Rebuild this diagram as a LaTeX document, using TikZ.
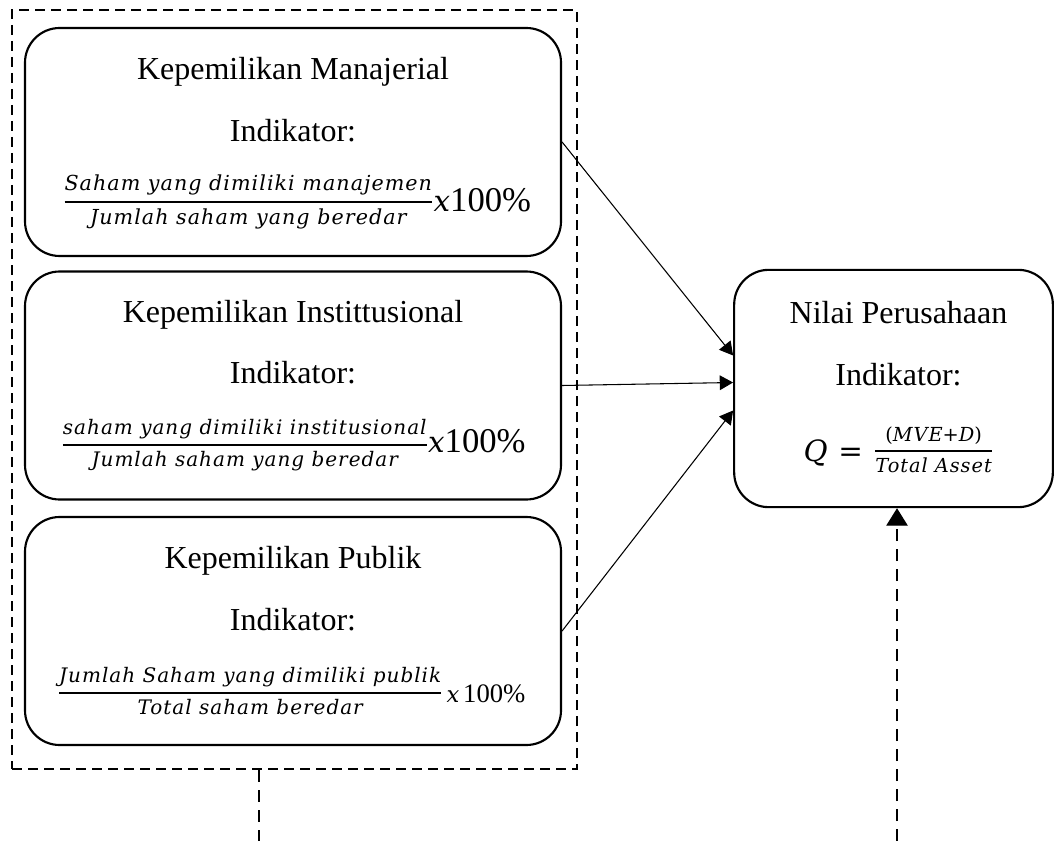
\RequirePackage{fix-cm}
\documentclass[tikz,border=0pt]{standalone}
\usepackage{fontspec}
\setmainfont{Liberation Serif}
\newfontfamily\rumus[LetterSpace=5]{DejaVu Serif}
\usetikzlibrary{positioning,calc,arrows.meta}

% fraction of the indicators: numerator, denominator, lift
\newcommand{\pecahan}[3]{\raisebox{#3}{$\displaystyle{\mbox{\rumus\itshape #1}\above 1.4pt\mbox{\rumus\itshape #2}}$}}

\tikzset{
  varbox/.style={draw, line width=1.6pt, rounded corners=26pt, inner sep=0pt,
    minimum width=402pt, minimum height=171pt},
  grpbox/.style={draw, line width=1.5pt, dash pattern=on 7.5pt off 4.5pt, inner sep=0pt,
    minimum width=423.75pt, minimum height=569.25pt},
  judul/.style={anchor=base, font=\fontsize{24}{29}\selectfont},
  rumusnode/.style={anchor=base, inner sep=0pt},
  arr/.style={-{Triangle[length=10pt,width=11pt]}, line width=0.8pt},
  garis/.style={line width=0.8pt, dash pattern=on 9pt off 6pt},
}

\begin{document}
\begin{tikzpicture}[x=0.75pt, y=-0.75pt]
        \useasboundingbox (0,0) rectangle (1055,841);
        % group of the three independent variables
        \node[grpbox] (grp) at (294.5,389.5) {};
        \node[varbox] (man) at (293,142) {};
        \node[varbox] (ins) at (293,385.5) {};
        \node[varbox] (pub) at (293,631) {};
        % dependent variable
        \node[varbox, minimum width=239pt, minimum height=178pt] (nilai) at (893.5,388.5) {};
        % texts of the boxes
        \node[judul] (tman) at (293,80) {Kepemilikan Manajerial};
        \node[judul] (iman) at (293,142) {Indikator:};
        \node[rumusnode] (fman) at (297,212) {\fontsize{15.5}{18}\selectfont\pecahan{Saham yang dimiliki manajemen}{Jumlah saham yang beredar}{3.6pt}{\fontsize{22}{26}\rumus\itshape x}{\fontsize{26}{31}\selectfont 100\%}};
        \node[judul] (tins) at (293,322) {Kepemilikan Instittusional};
        \node[judul] (iins) at (293,383) {Indikator:};
        \node[rumusnode] (fins) at (293.5,452) {\fontsize{15}{18}\selectfont\pecahan{saham yang dimiliki institusional}{Jumlah saham yang beredar}{1.5pt}{\fontsize{22}{26}\rumus\itshape x}{\fontsize{26}{31}\selectfont 100\%}};
        \node[judul] (tpub) at (293,568) {Kepemilikan Publik};
        \node[judul] (ipub) at (293,630) {Indikator:};
        \node[rumusnode] (fpub) at (291.5,702) {\fontsize{15}{18}\selectfont\pecahan{Jumlah Saham yang dimiliki publik}{Total saham beredar}{3pt}{\fontsize{17}{20}\rumus\itshape\,x\,}{\fontsize{20}{24}\selectfont 100\%}};
        \node[judul] (tnil) at (898.5,323) {Nilai Perusahaan};
        \node[judul] (inil) at (898.5,385) {Indikator:};
        \node[rumusnode] (fnil) at (898.5,461) {{\fontsize{22}{26}\rumus{\itshape Q} = }{\fontsize{14.5}{17}\selectfont\pecahan{{\upshape(}MVE{\upshape+}D{\upshape)}}{Total Asset}{3.9pt}}};
        % arrows to nilai perusahaan
        \draw[arr] (man.east) -- ($(nilai.west)+(0,-33)$);
        \draw[arr] (ins.east) -- ($(nilai.west)+(0,-6)$);
        \draw[arr] (pub.east) -- ($(nilai.west)+(0,22)$);
        % dashed lines at the bottom
        \coordinate (kiri) at (259,841);
        \coordinate (kanan) at (897,841);
        \draw[garis] (kiri |- grp.south) -- (kiri);
        \draw[garis, -{Triangle[length=13pt,width=16pt]}] (kanan) -- (kanan |- nilai.south);
\end{tikzpicture}
\end{document}
